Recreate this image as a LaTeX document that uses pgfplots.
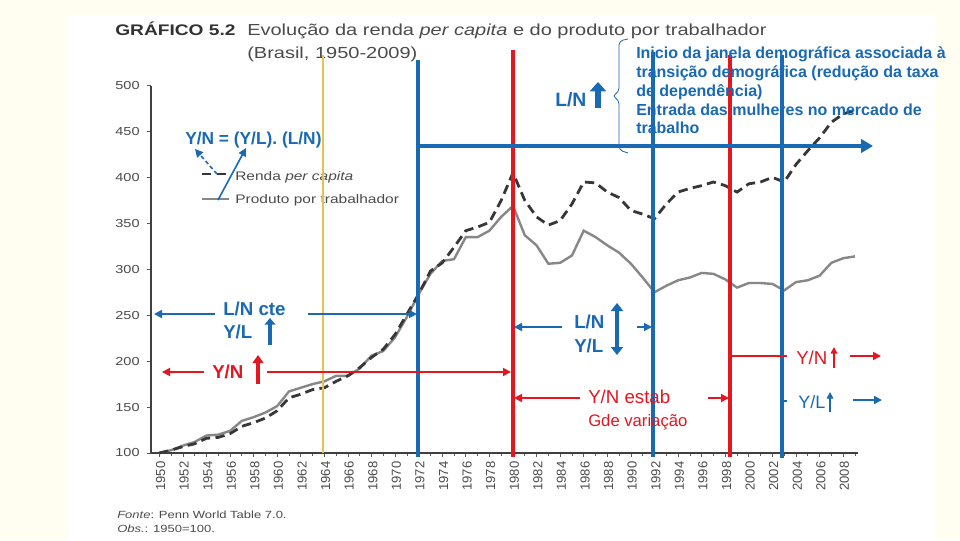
\documentclass[border=0pt]{standalone}
\usepackage{pgfplots}
\pgfplotsset{compat=1.18}
\usepackage{fontspec}
\setmainfont{Liberation Sans}
\newfontfamily\wide[FakeStretch=1.25]{Liberation Sans}
\usetikzlibrary{arrows.meta}
\definecolor{cream}{RGB}{255,254,240}
\definecolor{myblue}{RGB}{25,105,180}
\definecolor{myred}{RGB}{228,22,32}
\definecolor{myyellow}{RGB}{230,195,80}
\definecolor{dgray}{RGB}{55,55,55}
\definecolor{lgray}{RGB}{135,135,135}
\definecolor{tgray}{RGB}{75,75,75}
\definecolor{ttgray}{RGB}{50,50,50}

\pgfplotstableread{
year value
1950 100
1951 103
1952 107
1953 110
1954 116
1955 117
1956 121
1957 129
1958 133
1959 138
1960 146
1961 160
1962 164
1963 169
1964 171
1965 178
1966 184
1967 193
1968 204
1969 213
1970 229
1971 251
1972 273
1973 298
1974 307
1975 324
1976 342
1977 346
1978 351
1979 375
1980 405
1981 375
1982 357
1983 348
1984 353
1985 371
1986 395
1987 394
1988 384
1989 378
1990 364
1991 360
1992 355
1993 371
1994 384
1995 388
1996 391
1997 395
1998 391
1999 384
2000 393
2001 395
2002 400
2003 395
2004 414
2005 429
2006 443
2007 460
2008 469
2009 473
}\rendapc

\pgfplotstableread{
year value
1950 100
1951 103
1952 108
1953 112
1954 119
1955 120
1956 124
1957 135
1958 139
1959 144
1960 151
1961 167
1962 171
1963 175
1964 178
1965 184
1966 184
1967 192
1968 206
1969 211
1970 226
1971 248
1972 273
1973 295
1974 309
1975 311
1976 335
1977 335
1978 342
1979 357
1980 369
1981 337
1982 326
1983 306
1984 307
1985 315
1986 342
1987 335
1988 326
1989 318
1990 306
1991 291
1992 275
1993 282
1994 288
1995 291
1996 296
1997 295
1998 289
1999 280
2000 285
2001 285
2002 284
2003 277
2004 286
2005 288
2006 293
2007 307
2008 312
2009 314
}\prodtrab

\begin{document}
\begin{tikzpicture}
\begin{scope}[x=0.75pt,y=-0.75pt,shift={(-113.25pt,339.75pt)}]
\useasboundingbox (0,0) rectangle (960,540);
\fill[cream] (0,0) rectangle (960,540);
\fill[white] (68,15) rectangle (935,540);
\end{scope}

\begin{axis}[
  at={(0,0)}, anchor=south west, scale only axis,
  width=530.25pt, height=275.625pt,
  xmin=1949.3, xmax=2009.26, ymin=100, ymax=500,
  axis x line*=bottom, axis y line*=left,
  axis line style={-, draw=black!75, line width=0.8pt},
  xtick={1950,1952,...,2008},
  minor xtick={1951,1953,...,2009},
  ytick={100,150,...,500},
  tick style={draw=black!65, line width=0.5pt},
  tick align=outside,
  major tick length=3pt, minor tick length=2pt,
  /pgf/number format/assume math mode=true,
  /pgf/number format/1000 sep={},
  xticklabel style={rotate=90, anchor=east, font=\fontsize{9.8}{10}\selectfont, text=tgray, yshift=-1pt},
  yticklabel style={font=\wide\fontsize{8.7}{9}\selectfont, text=tgray, xshift=-2pt},
  clip=false,
]
\addplot[lgray, line width=1.8pt] table[x=year, y=value] {\prodtrab};
\addplot[dgray, line width=2.1pt, dash pattern=on 7pt off 4pt] table[x=year, y=value] {\rendapc};
\end{axis}

\begin{scope}[x=0.75pt,y=-0.75pt,shift={(-113.25pt,339.75pt)}]
% title
\node[anchor=base west, inner sep=0, text=ttgray, font=\wide\bfseries\fontsize{11.5}{12}\selectfont] at (115,36) {GRÁFICO 5.2};
\node[anchor=base west, inner sep=0, text=tgray, font=\wide\fontsize{12}{13}\selectfont] at (247,36) {Evolução da renda \textit{per capita} e do produto por trabalhador};
\node[anchor=base west, inner sep=0, text=tgray, font=\wide\fontsize{12}{13}\selectfont] at (247,59) {(Brasil, 1950-2009)};
% footnote
\node[anchor=base west, inner sep=0, text=tgray, font=\wide\fontsize{7.8}{8}\selectfont] at (117,518) {\textit{Fonte}: Penn World Table 7.0.};
\node[anchor=base west, inner sep=0, text=tgray, font=\wide\fontsize{7.8}{8}\selectfont] at (117,532) {\textit{Obs.}: 1950=100.};
% legend
\draw[dgray, line width=2.1pt, dash pattern=on 7pt off 4pt] (202,174) -- (229,174);
\draw[lgray, line width=1.8pt] (202,199) -- (229,199);
\node[anchor=base west, inner sep=0, text=tgray, font=\wide\fontsize{9.3}{10}\selectfont] at (235,180) {Renda \textit{per capita}};
\node[anchor=base west, inner sep=0, text=tgray, font=\wide\fontsize{9.3}{10}\selectfont] at (235,203) {Produto por trabalhador};

% vertical lines
\draw[myyellow, line width=0.8pt] (323,55) -- (323,453);
\draw[myblue, line width=3.6pt] (418,60) -- (418,457);
\draw[myred, line width=3.6pt] (513,50) -- (513,457);
\draw[myblue, line width=3.2pt] (653,52) -- (653,457);
\draw[myred, line width=3.2pt] (730,55) -- (730,457);
\draw[myblue, line width=3.2pt] (782,55) -- (782,458);

% horizontal blue arrow
\draw[myblue, line width=3.4pt, -{Triangle[length=9pt,width=10pt]}] (416,146) -- (873,146);

% top annotation
\node[anchor=base west, inner sep=0, text=myblue, font=\bfseries\fontsize{14.5}{16}\selectfont] at (555,106) {L/N};
\draw[myblue, line width=4.5pt, -{Triangle[length=7pt,width=12pt]}] (598,108) -- (598,82);
\draw[myblue, line width=0.6pt, rounded corners=3pt] (628,39) -- (619,41) -- (619,92) -- (612,96) -- (619,100) -- (619,150) -- (628,153);
\begin{scope}[every node/.style={anchor=base west, inner sep=0, text=myblue, font=\bfseries\fontsize{12}{14}\selectfont}]
\node at (636,59) {Inicio da janela demográfica associada à};
\node at (636,78) {transição demográfica (redução da taxa};
\node at (636,97) {de dependência)};
\node at (636,115) {Entrada das mulheres no mercado de};
\node at (636,133) {trabalho};
\end{scope}

% identity
\node[anchor=base west, inner sep=0, text=myblue, font=\bfseries\fontsize{13}{15}\selectfont] at (185,144) {Y/N = (Y/L). (L/N)};
\draw[myblue, line width=1.2pt, dash pattern=on 3pt off 2pt, -{Triangle[length=6pt,width=6pt]}] (217,174) -- (195,149);
\draw[myblue, line width=1.2pt, -{Triangle[length=6pt,width=6pt]}] (218,200) -- (246,148);

% L/N cte
\node[anchor=base west, inner sep=0, text=myblue, font=\bfseries\fontsize{14}{16}\selectfont] at (223,315) {L/N cte};
\node[anchor=base west, inner sep=0, text=myblue, font=\bfseries\fontsize{14}{16}\selectfont] at (223,338) {Y/L};
\draw[myblue, line width=2.4pt, -{Triangle[length=5pt,width=8pt]}] (270,345) -- (270,318);
\draw[myblue, line width=1.3pt, -{Triangle[length=6pt,width=6pt]}] (215,314) -- (154,314);
\draw[myblue, line width=1.3pt, -{Triangle[length=6pt,width=6pt]}] (308,314) -- (417,314);

% Y/N left red
\node[anchor=base west, inner sep=0, text=myred, font=\bfseries\fontsize{14}{16}\selectfont] at (212,378) {Y/N};
\draw[myred, line width=2.6pt, -{Triangle[length=6pt,width=8pt]}] (258,384) -- (258,355);
\draw[myred, line width=1.3pt, -{Triangle[length=6pt,width=6pt]}] (204,372) -- (162,372);
\draw[myred, line width=1.3pt, -{Triangle[length=6pt,width=6pt]}] (267,372) -- (511,372);

% middle L/N Y/L
\node[anchor=base west, inner sep=0, text=myblue, font=\bfseries\fontsize{14}{16}\selectfont] at (574,328) {L/N};
\node[anchor=base west, inner sep=0, text=myblue, font=\bfseries\fontsize{14}{16}\selectfont] at (574,352) {Y/L};
\draw[myblue, line width=2.6pt, {Triangle[length=6pt,width=9pt]}-{Triangle[length=6pt,width=9pt]}] (617,303) -- (617,355);
\draw[myblue, line width=1.3pt, -{Triangle[length=6pt,width=6pt]}] (562,327) -- (514,327);
\draw[myblue, line width=1.3pt, -{Triangle[length=6pt,width=6pt]}] (637,327) -- (652,327);

% Y/N estab
\node[anchor=base west, inner sep=0, text=myred, font=\fontsize{14}{16}\selectfont] at (588,403) {Y/N estab};
\node[anchor=base west, inner sep=0, text=myred, font=\fontsize{12.5}{14}\selectfont] at (588,426) {Gde variação};
\draw[myred, line width=1.3pt, -{Triangle[length=6pt,width=6pt]}] (580,398) -- (514,398);
\draw[myred, line width=1.3pt, -{Triangle[length=6pt,width=6pt]}] (708,398) -- (729,398);

% right side
\draw[myred, line width=1.3pt] (731,356) -- (787,356);
\node[anchor=base west, inner sep=0, text=myred, font=\fontsize{14}{16}\selectfont] at (796,364) {Y/N};
\draw[myred, line width=1.5pt, -{Triangle[length=5pt,width=5pt]}] (834,368) -- (834,347);
\draw[myred, line width=1.3pt, -{Triangle[length=6pt,width=6pt]}] (850,356) -- (881,356);
\draw[myblue, line width=1.3pt] (782,401) -- (787,401);
\node[anchor=base west, inner sep=0, text=myblue, font=\fontsize{13.5}{16}\selectfont] at (798,408) {Y/L};
\draw[myblue, line width=1.5pt, -{Triangle[length=5pt,width=5pt]}] (830,412) -- (830,392);
\draw[myblue, line width=1.3pt, -{Triangle[length=6pt,width=6pt]}] (853,400) -- (882,400);
\end{scope}
\end{tikzpicture}
\end{document}
